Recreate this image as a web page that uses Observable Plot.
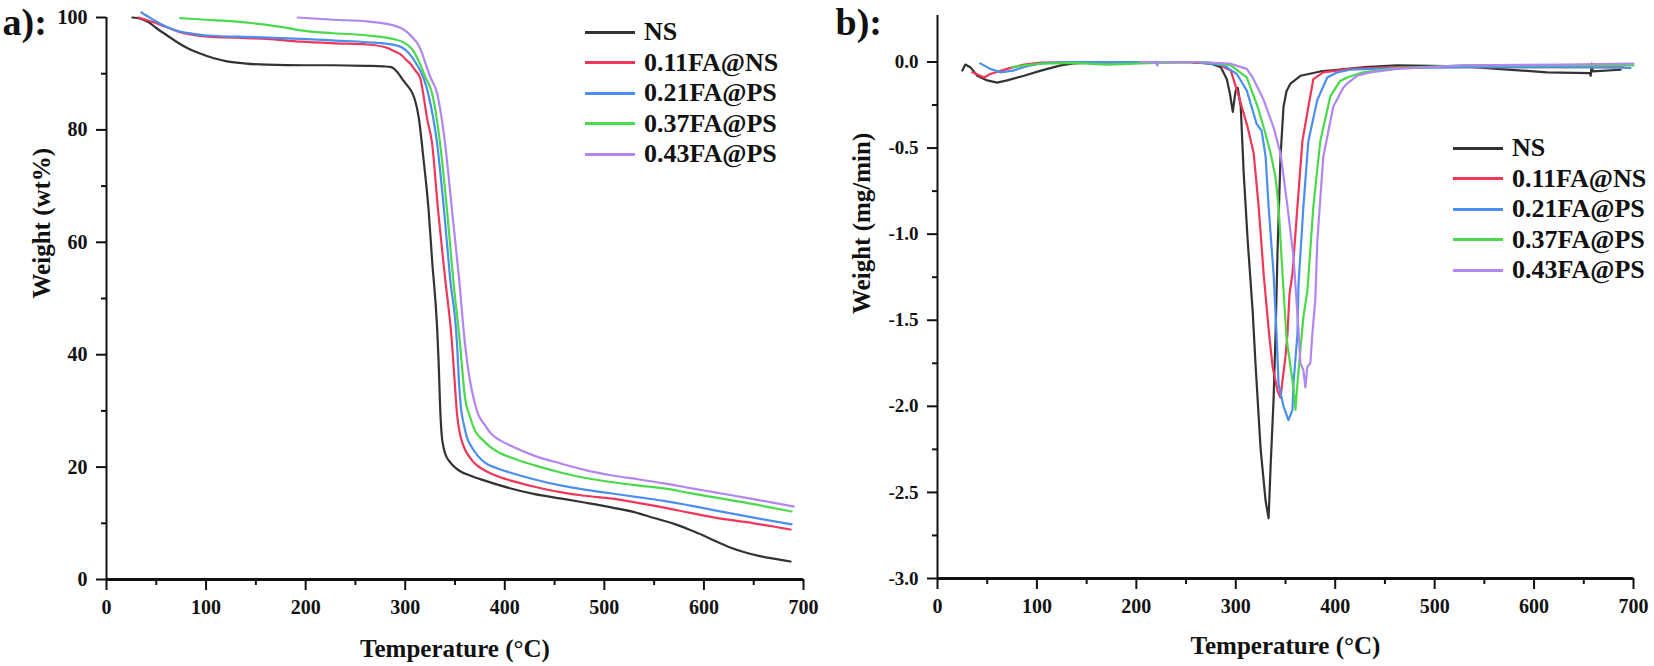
<!DOCTYPE html>
<html>
<head>
<meta charset="utf-8">
<script src="https://cdn.jsdelivr.net/npm/d3@7"></script>
<script src="https://cdn.jsdelivr.net/npm/@observablehq/plot@0.6"></script>
<style>
  html, body { margin: 0; padding: 0; background: #fff; }
  #wrap { position: relative; width: 1654px; height: 666px; display: flex; font-family: "Liberation Serif", serif; font-weight: bold; color: #111; }
  .legend { position: absolute; font-size: 26px; line-height: 30.5px; }
  .legend .row { display: flex; align-items: center; height: 30.5px; white-space: nowrap; }
  .legend .sw { display: inline-block; height: 3px; margin-right: 9px; }
</style>
</head>
<body>
<div id="wrap"></div>
<script>
// ---------- series ----------
const seriesNames = ["NS", "0.11FA@NS", "0.21FA@PS", "0.37FA@PS", "0.43FA@PS"];
const seriesColors = ["#333333", "#f0375a", "#4a8ff0", "#4ad94a", "#b286f0"];

// ---------- a) TGA: [temperature °C, weight wt%] ----------
const tgaNS = [[26,100],[34,99.8],[42,99.2],[51,98],[61,96.8],[71,95.6],[82,94.5],[94,93.6],[107,92.8],[121,92.2],[140,91.8],[161,91.6],[200,91.5],[228,91.5],[260,91.4],[278,91.3],[285,91.2],[292,90.3],[298,88.8],[303,87.7],[307,86.6],[310,85.2],[313.5,82.3],[318.5,74.6],[323.5,65.7],[327,56.8],[332,44.9],[333.5,39],[335,31],[336.5,26],[338.5,23.5],[341,22],[344,21.1],[349,20.1],[354,19.4],[365,18.5],[380,17.6],[406,16.2],[430,15.2],[457,14.4],[480,13.7],[508,12.8],[530,12],[549,11.0],[570,9.9],[585,8.9],[600,7.8],[612,6.8],[625,5.8],[640,4.9],[655,4.2],[670,3.7],[687,3.2]];
const tgaFA11 = [[32,100],[41,99.5],[50,99],[60,98.3],[74,97.4],[87,96.9],[101,96.6],[130,96.4],[161,96.2],[195,95.7],[230,95.4],[262,95.2],[280,94.7],[288,94.1],[297,93.2],[302,92.3],[305,91.8],[310,90.6],[315,89.3],[318,86.5],[322,82],[327,77.6],[333,65.7],[340,53.7],[347,42],[349,37],[350.5,33],[352,29.5],[354,26.8],[358,24],[365,21.7],[372,20.3],[380,19.4],[392,18.4],[406,17.6],[430,16.5],[457,15.5],[480,14.9],[508,14.4],[535,13.6],[560,12.8],[585,11.9],[611,11.0],[650,10],[687,8.9]];
const tgaFA21 = [[35,100.9],[45,99.8],[55,98.8],[65,98],[74,97.5],[87,97.1],[101,96.8],[150,96.5],[195,96.2],[230,95.9],[262,95.6],[292,95],[300,94.3],[307,92.9],[312,91.5],[315,90.6],[323,86.5],[332,77.6],[339,65.7],[345,53.7],[352,42],[354,35],[356,30.5],[359,27.5],[362,25.3],[367,23.5],[373,22],[380,20.8],[392,19.8],[406,19],[430,17.8],[457,16.7],[480,16],[508,15.3],[535,14.6],[560,14],[585,13.2],[611,12.3],[650,11],[688,9.8]];
const tgaFA37 = [[74,99.9],[100,99.6],[128,99.3],[161,98.7],[180,98.2],[195,97.7],[228,97.2],[262,96.8],[292,96],[300,95.4],[308,94.1],[312,92.8],[316,91.3],[320,89.5],[327,86.5],[335,77.6],[342,65.7],[348,53.7],[355,42],[358,36],[360,32.4],[365,29],[370,26.5],[378,24.8],[386,23.5],[395,22.5],[406,21.7],[430,20.3],[457,19],[480,18.1],[508,17.3],[535,16.7],[560,16.2],[585,15.4],[611,14.6],[650,13.4],[688,12.1]];
const tgaFA43 = [[192,100],[228,99.6],[262,99.3],[280,98.9],[288,98.6],[296,98.1],[302,97.4],[308,96.3],[313,95.2],[317,93.6],[320,92],[325,89.5],[332,86.5],[340,77.6],[347,65.7],[354,53.7],[360,42],[362,39],[365,35.4],[369,32],[373,29.5],[380,27.5],[386,26],[395,24.8],[406,23.8],[430,22],[457,20.6],[480,19.5],[508,18.5],[535,17.8],[560,17.1],[585,16.3],[611,15.5],[650,14.3],[690,13]];

// ---------- b) DTG: [temperature °C, mg/min] ----------
const dtgNS = [[25,-0.05],[28,-0.015],[33,-0.03],[40,-0.08],[50,-0.107],[60,-0.12],[70,-0.107],[87,-0.08],[104,-0.05],[124,-0.02],[137,-0.008],[160,-0.003],[200,-0.002],[250,0],[275,-0.01],[285,-0.03],[291,-0.1],[294,-0.18],[297,-0.29],[299,-0.2],[300,-0.165],[302,-0.15],[305,-0.26],[308,-0.65],[312,-1.04],[317,-1.45],[320,-1.77],[325,-2.25],[330,-2.55],[333,-2.65],[335,-2.35],[338,-1.96],[340,-1.58],[342,-1.1],[345,-0.55],[348,-0.26],[351,-0.17],[355,-0.125],[365,-0.08],[385,-0.055],[402,-0.045],[430,-0.03],[462,-0.02],[529,-0.025],[563,-0.04],[613,-0.06],[656,-0.065],[657,-0.08],[658,-0.01],[659,-0.055],[687,-0.045]];
const dtgFA11 = [[35,-0.06],[43,-0.08],[47,-0.09],[53,-0.07],[70,-0.04],[87,-0.015],[104,-0.003],[150,0],[200,-0.003],[250,0],[280,-0.01],[285,-0.02],[295,-0.05],[303,-0.2],[312,-0.38],[318,-0.53],[323,-0.84],[328,-1.23],[333,-1.55],[337,-1.77],[342,-1.91],[345,-1.95],[347,-1.85],[350,-1.71],[352,-1.58],[354,-1.35],[357,-1.23],[362,-0.84],[367,-0.46],[373,-0.26],[378,-0.1],[388,-0.06],[415,-0.04],[460,-0.03],[550,-0.03],[690,-0.03]];
const dtgFA21 = [[43,-0.008],[53,-0.04],[63,-0.06],[76,-0.05],[90,-0.025],[104,-0.008],[130,0],[200,0],[260,0],[288,-0.02],[301,-0.07],[311,-0.165],[321,-0.36],[326,-0.4],[330,-0.55],[333,-0.84],[338,-1.23],[341,-1.58],[343,-1.87],[348,-2.0],[353,-2.08],[357,-2.02],[358,-1.87],[362,-1.58],[363,-1.3],[368,-0.84],[373,-0.46],[382,-0.22],[392,-0.09],[402,-0.06],[415,-0.045],[460,-0.035],[550,-0.03],[650,-0.03],[697,-0.035]];
const dtgFA37 = [[75,-0.03],[88,-0.02],[104,-0.01],[137,-0.005],[171,-0.015],[204,-0.008],[238,-0.003],[270,0],[295,-0.02],[311,-0.09],[322,-0.26],[330,-0.42],[335,-0.53],[340,-0.67],[343,-0.84],[347,-1.23],[351,-1.6],[355,-1.77],[358,-1.89],[360,-2.02],[362,-1.87],[365,-1.67],[368,-1.48],[372,-1.33],[378,-0.84],[385,-0.46],[395,-0.2],[405,-0.11],[412,-0.09],[428,-0.06],[462,-0.035],[529,-0.02],[700,-0.02]];
const dtgFA43 = [[204,0],[215,0],[220,-0.005],[221,-0.02],[222,0],[260,0],[295,-0.01],[311,-0.04],[317,-0.09],[328,-0.22],[338,-0.38],[345,-0.53],[352,-0.84],[358,-1.13],[363,-1.55],[365,-1.75],[368,-1.79],[370,-1.89],[372,-1.77],[375,-1.75],[377,-1.58],[380,-1.38],[382,-1.04],[388,-0.55],[398,-0.26],[408,-0.15],[412,-0.125],[422,-0.08],[435,-0.06],[462,-0.04],[529,-0.02],[630,-0.015],[700,-0.01]];

// ---------- ticks ----------
const xMajor = [0, 100, 200, 300, 400, 500, 600, 700];
const xMinor = [50, 150, 250, 350, 450, 550, 650];
const yMajorA = [0, 20, 40, 60, 80, 100];
const yMinorA = [10, 30, 50, 70, 90];
const yMajorB = [-3.0, -2.5, -2.0, -1.5, -1.0, -0.5, 0.0];
const yMinorB = [-2.75, -2.25, -1.75, -1.25, -0.75, -0.25];

const toRows = (sets) => sets.flatMap((pts, i) => pts.map(([T, v]) => ({T, v, s: seriesNames[i]})));
const rowsA = toRows([tgaNS, tgaFA11, tgaFA21, tgaFA37, tgaFA43]);
const rowsB = toRows([dtgNS, dtgFA11, dtgFA21, dtgFA37, dtgFA43]);

const style = {fontFamily: "Liberation Serif, serif", fontWeight: "bold", fontSize: "20px", color: "#111", background: "white", overflow: "visible"};

function panel({rows, curve, yDomain, yMajor, yMinor, yFmt, ml, mr, mt, mb, ytitle, letter, xTitleDy, yTitleDx, yTitleDy, letterDx, letterDy, yFont}) {
  return Plot.plot({
    width: 827, height: 666,
    marginLeft: ml, marginRight: mr, marginTop: mt, marginBottom: mb,
    style,
    x: {domain: [0, 700]},
    y: {domain: yDomain},
    color: {domain: seriesNames, range: seriesColors},
    marks: [
      Plot.line(rows, {x: "T", y: "v", z: "s", stroke: "s", strokeWidth: 2.2, strokeLinejoin: "round", curve}),
      Plot.axisX(xMajor, {anchor: "bottom", tickSize: 11, tickPadding: 9, strokeWidth: 2, fontSize: 20, label: null, tickFormat: d => String(d)}),
      Plot.axisX(xMinor, {anchor: "bottom", tickSize: 6, strokeWidth: 2, label: null, tickFormat: () => ""}),
      Plot.axisY(yMajor, {anchor: "left", tickSize: 10, tickPadding: 9, strokeWidth: 2, fontSize: yFont, label: null, tickFormat: yFmt}),
      Plot.axisY(yMinor, {anchor: "left", tickSize: 5, strokeWidth: 2, label: null, tickFormat: () => ""}),
      Plot.ruleX([0], {stroke: "#111", strokeWidth: 2}),
      Plot.ruleY([yDomain[0]], {stroke: "#111", strokeWidth: 3}),
      Plot.text(["Temperature (°C)"], {text: d => d, frameAnchor: "bottom", dy: xTitleDy, fontSize: 25, lineAnchor: "middle", fill: "#111"}),
      Plot.text([ytitle], {text: d => d, frameAnchor: "left", dx: yTitleDx, dy: yTitleDy, rotate: -90, fontSize: 25, lineAnchor: "middle", fill: "#111"}),
      Plot.text([letter], {text: d => d, frameAnchor: "top-left", dx: letterDx, dy: letterDy, fontSize: 38, textAnchor: "start", lineAnchor: "middle", fill: "#111"})
    ]
  });
}

const wrap = document.getElementById("wrap");

const plotA = panel({
  rows: rowsA, curve: "monotone-x", yDomain: [0, 100], yMajor: yMajorA, yMinor: yMinorA, yFmt: d => String(d),
  ml: 106, mr: 24, mt: 17, mb: 87, ytitle: "Weight (wt%)", letter: "a):",
  xTitleDy: 69, yTitleDx: -65, yTitleDy: 0, letterDx: -104, letterDy: 5, yFont: 20
});
const plotB = panel({
  rows: rowsB, curve: "linear", yDomain: [-3.0, 0.27], yMajor: yMajorB, yMinor: yMinorB, yFmt: d => d.toFixed(1),
  ml: 110, mr: 21, mt: 15, mb: 88, ytitle: "Weight (mg/min)", letter: "b):",
  xTitleDy: 67, yTitleDx: -76, yTitleDy: 17, letterDx: -102, letterDy: 7, yFont: 19
});
wrap.appendChild(plotA);
wrap.appendChild(plotB);

function legend(left, top) {
  const div = document.createElement("div");
  div.className = "legend";
  div.style.left = left + "px";
  div.style.top = top + "px";
  seriesNames.forEach((name, i) => {
    const row = document.createElement("div");
    row.className = "row";
    const sw = document.createElement("span");
    sw.className = "sw";
    sw.style.width = "50px";
    sw.style.background = seriesColors[i];
    const lab = document.createElement("span");
    lab.textContent = name;
    row.appendChild(sw);
    row.appendChild(lab);
    div.appendChild(row);
  });
  wrap.appendChild(div);
}
legend(585, 17);
legend(1453, 133);
</script>
</body>
</html>
